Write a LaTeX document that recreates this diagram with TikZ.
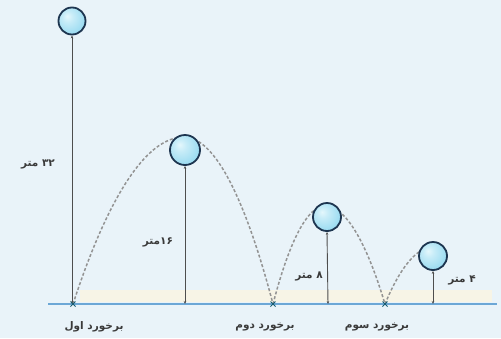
\documentclass[tikz,border=0pt]{standalone}
\usepackage{fontspec}
\newfontfamily\fa[Script=Arabic]{DejaVu Sans}
\TeXXeTstate=1
\usetikzlibrary{arrows.meta}
\definecolor{bg}{HTML}{E9F3F9}
\definecolor{ground}{HTML}{6CA7D6}
\definecolor{strip}{HTML}{F7F4E6}
\definecolor{rim}{HTML}{1D3550}
\definecolor{txt}{HTML}{3A3A3A}
\definecolor{bhi}{HTML}{E4F7FC}
\definecolor{bmid}{HTML}{9ADBF1}
\definecolor{bedge}{HTML}{3FA9DA}
\pgfdeclareradialshading{sph}{\pgfpoint{-9bp}{9bp}}{%
  color(0bp)=(bhi); color(10bp)=(bhi!60!bmid); color(30bp)=(bmid); color(50bp)=(bedge); color(70bp)=(bedge)}
\tikzset{
  ball/.style={circle, minimum size=28pt, inner sep=0pt, draw=rim, line width=1.8pt,
    shading=sph},
  path/.style={dash pattern=on 3pt off 2pt, line width=1.5pt, draw=gray!85},
  height/.style={draw=txt!90, line width=0.9pt, {Stealth[length=3pt,width=2.5pt]}-{Stealth[length=3pt,width=2.5pt]}},
  lbl/.style={font=\fa\bfseries\fontsize{10.5}{12}\selectfont, text=txt, inner sep=1pt},
  hit/.style={draw=rim!80!cyan, line width=0.9pt}
}
\begin{document}
\begin{tikzpicture}[x=1pt,y=-1pt]
\useasboundingbox (0,0) rectangle (501,338);
\fill[bg] (0,0) rectangle (501,338);
\fill[strip] (80,290) rectangle (492,302);
% ground
\coordinate (gl) at (48,304);
\coordinate (gr) at (497,304);
\draw[ground, line width=1.6pt] (gl) -- (gr);
% collisions
\coordinate (c1) at (73,304);
\coordinate (c2) at (273,304);
\coordinate (c3) at (385,304);
% peaks
\coordinate (p1) at (184,137);
\coordinate (p2) at (325,206);
\coordinate (p3) at (433,247);
% trajectories
\draw[path] (c1) parabola bend (p1) (c2);
\draw[path] (c2) parabola bend (p2) (c3);
\draw[path] (p3) parabola (c3);
% ground feet
\coordinate (f1) at (72,304);
\coordinate (f2) at (185,304);
\coordinate (f3) at (328,304);
\coordinate (f4) at (433,304);
% balls
\node[ball, minimum size=27pt] (b1) at (72,21) {};
\node[ball, minimum size=30pt] (b2) at (185,150) {};
\node[ball] (b3) at (327,217) {};
\node[ball] (b4) at (433,256) {};
% heights
\draw[height] (b1.south) -- (f1);
\draw[height] (b2.south) -- (f2);
\draw[height] (b3.south) -- (f3);
\draw[height] (b4.south) -- (f4);
% collision marks
\foreach \c in {c1,c2,c3}{
  \draw[hit] ([shift={(-2.5,-2.5)}]\c) -- ([shift={(2.5,2.5)}]\c);
  \draw[hit] ([shift={(-2.5,2.5)}]\c) -- ([shift={(2.5,-2.5)}]\c);
}
% labels
\node[lbl] (h1) at (38,164) {\beginR\beginL ۳۲\endL{} متر\endR};
\node[lbl] (h2) at (158,242) {\beginR\beginL ۱۶\endL{}متر\endR};
\node[lbl] (h3) at (309,276) {\beginR ۸ متر\endR};
\node[lbl] (h4) at (462,280) {\beginR ۴ متر\endR};
\node[lbl] (l1) at (94,327) {\beginR برخورد اول\endR};
\node[lbl] (l2) at (265,327) {\beginR برخورد دوم\endR};
\node[lbl] (l3) at (377,327) {\beginR برخورد سوم\endR};
\end{tikzpicture}
\end{document}
